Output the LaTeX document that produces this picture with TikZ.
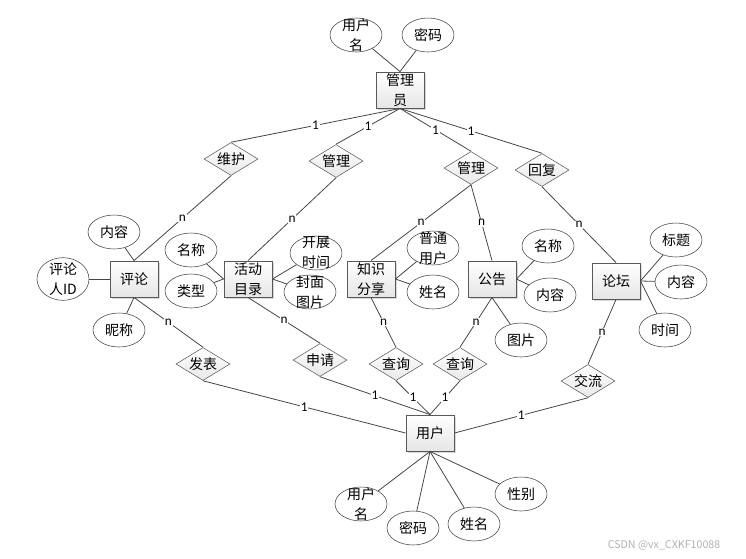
\documentclass[tikz,border=0pt]{standalone}
\usepackage{fontspec}
\setmainfont{Noto Sans CJK SC}
\newfontfamily\numfont{Carlito}
\usetikzlibrary{shapes.geometric, shadows}

\begin{document}
\begin{tikzpicture}[
  x=0.75pt, y=-0.75pt,
  font=\fontsize{10.5}{15}\selectfont,
  entity/.style={draw=gray!70!black, line width=0.7pt, top color=white, bottom color=gray!20,
    drop shadow={shadow xshift=1.2pt, shadow yshift=-1.2pt, opacity=0.3},
    minimum width=36pt, minimum height=27pt, inner sep=0pt, align=center},
  attr/.style={draw=black!75, ellipse, fill=white, minimum width=39pt, minimum height=25.5pt, inner sep=0pt, align=center},
  attrtwo/.style={attr, label={[align=center, inner sep=0pt]center:#1}},
  rel/.style={draw=gray!70!black, diamond, top color=white, bottom color=gray!18, aspect=1.6,
    minimum width=40.5pt, minimum height=24.75pt, inner sep=0pt},
  link/.style={draw=gray!55!black, line width=0.6pt},
  card/.style={midway, fill=white, inner sep=0.6pt, font=\numfont\fontsize{10}{10}\selectfont}
]
  \useasboundingbox (0,0) rectangle (746,558);

  % entities
  \node[entity] (adm) at (400,90) {管理\\员};
  \node[entity] (cmt) at (134,279) {评论};
  \node[entity] (act) at (248,279) {活动\\目录};
  \node[entity] (kn) at (371,279) {知识\\分享};
  \node[entity] (ann) at (492,279) {公告};
  \node[entity] (frm) at (616,281) {论坛};
  \node[entity] (usr) at (430,433) {用户};

  % attributes
  \node[attrtwo={用户\\名}] (auname) at (356,35) {};
  \node[attr] (apwd) at (428,35) {密码};
  \node[attr] (ccont) at (114,232) {内容};
  \node[attrtwo={评论\\人ID}, minimum height=32pt] (cid) at (63,279) {};
  \node[attr] (cnick) at (119,330) {昵称};
  \node[attr] (aname) at (191,250) {名称};
  \node[attr] (atype) at (191,291) {类型};
  \node[attrtwo={开展\\时间}] (atime) at (316,253) {};
  \node[attrtwo={封面\\图片}] (acover) at (310,292) {};
  \node[attrtwo={普通\\用户}] (kuser) at (433,248) {};
  \node[attr] (kname) at (433,292) {姓名};
  \node[attr] (nname) at (548,246) {名称};
  \node[attr] (ncont) at (550,295) {内容};
  \node[attr] (npic) at (521,340) {图片};
  \node[attr] (ftitle) at (676,240) {标题};
  \node[attr] (fcont) at (681,282) {内容};
  \node[attr] (ftime) at (665,330) {时间};
  \node[attrtwo={用户\\名}] (uname) at (361,504) {};
  \node[attr] (upwd) at (413,528) {密码};
  \node[attr] (uxm) at (474,524) {姓名};
  \node[attr] (usex) at (521,494) {性别};

  % relations
  \node[rel] (r1) at (231,159) {维护};
  \node[rel] (r2) at (336,161) {管理};
  \node[rel] (r3) at (471,168) {管理};
  \node[rel] (r4) at (542,170) {回复};
  \node[rel] (r5) at (203,364) {发表};
  \node[rel] (r6) at (320,360) {申请};
  \node[rel] (r7) at (396,364) {查询};
  \node[rel] (r8) at (460,364) {查询};
  \node[rel] (r9) at (588,381) {交流};

  % attribute lines
  \draw[link] (adm.north) -- (auname);
  \draw[link] (adm.north) -- (apwd);
  \draw[link] (cmt.north) -- (ccont);
  \draw[link] (cmt.west) -- (cid);
  \draw[link] (cmt.south) -- (cnick);
  \draw[link] (act.west) -- (aname);
  \draw[link] (act.west) -- (atype);
  \draw[link] (act.east) -- (atime);
  \draw[link] (act.east) -- (acover);
  \draw[link] (kn.east) -- (kuser);
  \draw[link] (kn.east) -- (kname);
  \draw[link] (ann.east) -- (nname);
  \draw[link] (ann.east) -- (ncont);
  \draw[link] (ann.south) -- (npic);
  \draw[link] (frm.east) -- (ftitle);
  \draw[link] (frm.east) -- (fcont);
  \draw[link] (frm.east) -- (ftime);
  \foreach \a in {uname, upwd, uxm, usex}
    \draw[link] (usr.south) -- (\a);

  % relation lines
  \foreach \r in {r1, r2, r3, r4}
    \draw[link] (adm.south) -- (\r.north) node[card] {1};
  \draw[link] (r1.south) -- (cmt.north) node[card] {n};
  \draw[link] (r2.south) -- (act.north) node[card] {n};
  \draw[link] (r3.south) -- (kn.north) node[card] {n};
  \draw[link] (r3.south) -- (ann.north) node[card] {n};
  \draw[link] (r4.south) -- (frm.north) node[card] {n};
  \draw[link] (cmt.south) -- (r5.north) node[card] {n};
  \draw[link] (act.south) -- (r6.north) node[card] {n};
  \draw[link] (kn.south) -- (r7.north) node[card] {n};
  \draw[link] (ann.south) -- (r8.north) node[card] {n};
  \draw[link] (frm.south) -- (r9.north) node[card] {n};
  \draw[link] (r5.south) -- (usr.west) node[card] {1};
  \draw[link] (r6.south) -- (usr.north) node[card] {1};
  \draw[link] (r7.south) -- (usr.north) node[card] {1};
  \draw[link] (r8.south) -- (usr.north) node[card] {1};
  \draw[link] (r9.south) -- (usr.east) node[card] {1};

  \node[font=\fontsize{8}{8}\selectfont, text=gray!60] (mark) at (664,545) {CSDN @vx\_CXKF10088};
\end{tikzpicture}
\end{document}
